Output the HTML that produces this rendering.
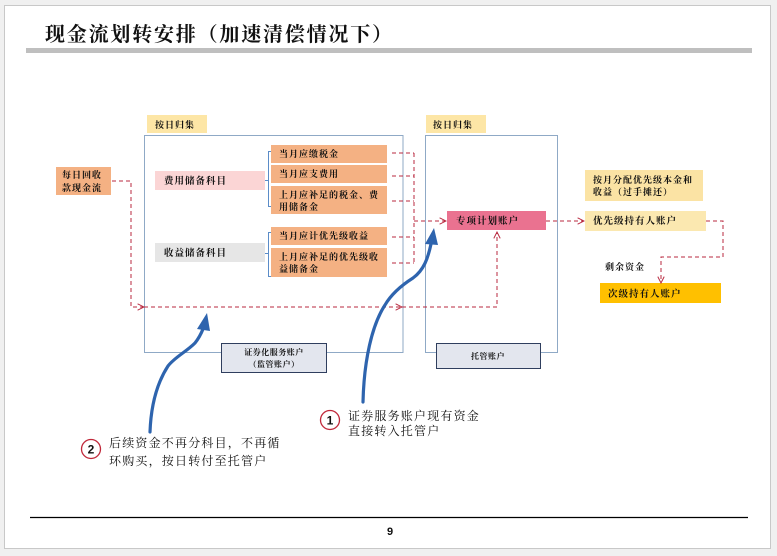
<!DOCTYPE html>
<html><head><meta charset="utf-8"><style>
html,body{margin:0;padding:0;background:#f0f0f0;}
svg{display:block;}
.lb{font-family:"Liberation Serif","Noto Serif CJK SC",serif;font-weight:700;font-size:9px;fill:#111;letter-spacing:1px;}
.an{font-family:"Liberation Serif","Noto Serif CJK SC",serif;font-size:12px;fill:#111;letter-spacing:1.2px;}
.d{fill:none;stroke:#b8283f;stroke-width:1;stroke-dasharray:4 3;}
</style></head><body>
<svg width="777" height="556" viewBox="0 0 777 556" xmlns="http://www.w3.org/2000/svg">
<defs>
<marker id="ah" viewBox="0 0 10 10" refX="9" refY="5" markerWidth="8" markerHeight="8" orient="auto" markerUnits="userSpaceOnUse">
<polyline points="1,1 9,5 1,9" fill="none" stroke="#b8283f" stroke-width="1.2"/>
</marker>
</defs>
<rect x="0" y="0" width="777" height="556" fill="#f0f0f0"/>
<rect x="4.5" y="5.5" width="766" height="543" fill="#fff" stroke="#c8c8c8" stroke-width="1"/>
<!-- title -->
<text x="45" y="41" font-family="'Liberation Serif','Noto Serif CJK SC',serif" font-weight="700" font-size="20" letter-spacing="1.8" fill="#111">现金流划转安排（加速清偿情况下）</text>
<rect x="26" y="48" width="726" height="5" fill="#bfbfbf"/>

<!-- left input -->
<rect x="56" y="167" width="55" height="28" fill="#f4b183"/>
<text class="lb" x="62" y="178">每日回收</text>
<text class="lb" x="62" y="191">款现金流</text>

<!-- box 1 -->
<rect x="147" y="115" width="60" height="18" fill="#fde6a6"/>
<text class="lb" x="155" y="128">按日归集</text>
<rect x="144.5" y="135.5" width="258.5" height="217" fill="none" stroke="#8fa9c6" stroke-width="1"/>
<rect x="155" y="171" width="110" height="19" fill="#fbd5d5"/>
<text class="lb" x="164" y="184" style="font-size:9.5px">费用储备科目</text>
<rect x="155" y="243" width="110" height="19" fill="#e6e6e6"/>
<text class="lb" x="164" y="256" style="font-size:9.5px">收益储备科目</text>
<!-- brackets -->
<path d="M271.5,151.5 H268.5 V206.5 H271.5 M268.5,180.5 H265" fill="none" stroke="#5b8cc8" stroke-width="1"/>
<path d="M271.5,232.5 H268.5 V276.5 H271.5 M268.5,253.5 H265" fill="none" stroke="#5b8cc8" stroke-width="1"/>
<!-- orange items -->
<rect x="271" y="145" width="116" height="18" fill="#f4b183"/>
<text class="lb" x="279" y="157">当月应缴税金</text>
<rect x="271" y="165" width="116" height="18" fill="#f4b183"/>
<text class="lb" x="279" y="177">当月应支费用</text>
<rect x="271" y="186" width="116" height="28" fill="#f4b183"/>
<text class="lb" x="279" y="198">上月应补足的税金、费</text>
<text class="lb" x="279" y="210">用储备金</text>
<rect x="271" y="227" width="116" height="18" fill="#f4b183"/>
<text class="lb" x="279" y="239">当月应计优先级收益</text>
<rect x="271" y="248" width="116" height="29" fill="#f4b183"/>
<text class="lb" x="279" y="260">上月应补足的优先级收</text>
<text class="lb" x="279" y="272">益储备金</text>

<!-- box 1 label -->
<rect x="221.5" y="343.5" width="105" height="29" fill="#e3e6ee" stroke="#2f3e5e" stroke-width="1"/>
<text class="lb" x="274" y="355" text-anchor="middle" style="font-size:8px;letter-spacing:0.5px">证券化服务账户</text>
<text class="lb" x="274" y="367" text-anchor="middle" style="font-size:8px;letter-spacing:0.5px">（监管账户）</text>

<!-- box 2 -->
<rect x="426" y="115" width="60" height="18" fill="#fde6a6"/>
<text class="lb" x="433" y="128">按日归集</text>
<rect x="425.5" y="135.5" width="132" height="217" fill="none" stroke="#8fa9c6" stroke-width="1"/>
<rect x="447" y="211" width="99" height="19" fill="#ea7290"/>
<text class="lb" x="456" y="224" style="font-size:9.5px">专项计划账户</text>
<rect x="436.5" y="343.5" width="104" height="25" fill="#e3e6ee" stroke="#2f3e5e" stroke-width="1"/>
<text class="lb" x="488" y="359" text-anchor="middle" style="font-size:8px;letter-spacing:0.5px">托管账户</text>

<!-- right side -->
<rect x="585" y="170" width="118" height="31" fill="#fbe3a4"/>
<text class="lb" x="593" y="183">按月分配优先级本金和</text>
<text class="lb" x="593" y="195">收益（过手摊还）</text>
<rect x="585" y="211" width="121" height="20" fill="#fbe8b0"/>
<text class="lb" x="593" y="224" style="font-size:9.5px">优先级持有人账户</text>
<text class="lb" x="605" y="270">剩余资金</text>
<rect x="600" y="283" width="121" height="20" fill="#ffc000"/>
<text class="lb" x="608" y="297" style="font-size:9.5px">次级持有人账户</text>

<!-- dashed connectors -->
<path class="d" d="M392,153 H414 M392,176 H414 M392,201 H414 M392,237 H414 M392,263 H414 M414,153 V263"/>
<path class="d" d="M414,221 H446" marker-end="url(#ah)"/>
<path class="d" d="M546,221 H584" marker-end="url(#ah)"/>
<path class="d" d="M706,221 H723 V257 H661 V283" marker-end="url(#ah)"/>
<path class="d" d="M112,181 H131 V307 H144" marker-end="url(#ah)"/>
<path class="d" d="M144,307 H402" marker-end="url(#ah)"/>
<path class="d" d="M402,307 H497 V232" marker-end="url(#ah)"/>

<!-- blue curved arrows -->
<path d="M363,402 C364,360 372,325 385,305 C392,293 402,285 413,278 C424,270 428,258 431,244" fill="none" stroke="#2e64ae" stroke-width="3.2" stroke-linecap="round"/>
<polygon points="434,228 425,244 438,245" fill="#2e64ae"/>
<path d="M150,432 C151,405 157,383 168,366 C175,357 186,352 195,343 C199,338 201,334 203,329" fill="none" stroke="#2e64ae" stroke-width="3.2" stroke-linecap="round"/>
<polygon points="207,313 197,329 210,331" fill="#2e64ae"/>

<!-- annotations -->
<circle cx="330" cy="420" r="9.5" fill="#fff" stroke="#c0283a" stroke-width="1.3"/>
<text x="330" y="424.5" text-anchor="middle" font-family="'Liberation Sans',sans-serif" font-weight="700" font-size="12" fill="#111">1</text>
<text class="an" x="348" y="420">证券服务账户现有资金</text>
<text class="an" x="348" y="435">直接转入托管户</text>
<circle cx="91" cy="449" r="9.5" fill="#fff" stroke="#c0283a" stroke-width="1.3"/>
<text x="91" y="453.5" text-anchor="middle" font-family="'Liberation Sans',sans-serif" font-weight="700" font-size="12" fill="#111">2</text>
<text class="an" x="109" y="447">后续资金不再分科目，不再循</text>
<text class="an" x="109" y="465">环购买，按日转付至托管户</text>

<!-- footer -->
<line x1="30" y1="517.5" x2="748" y2="517.5" stroke="#000" stroke-width="1.2"/>
<text x="390" y="535" text-anchor="middle" font-family="'Liberation Sans',sans-serif" font-weight="700" font-size="11" fill="#111">9</text>
</svg>
</body></html>
